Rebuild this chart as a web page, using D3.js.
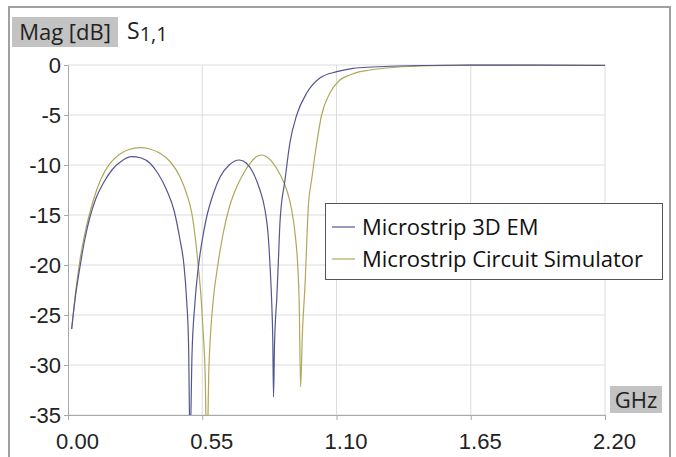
<!DOCTYPE html>
<html>
<head>
<meta charset="utf-8">
<script src="https://cdn.jsdelivr.net/npm/d3@7"></script>
<style>
  body { margin: 0; background: #fff; }
  svg { display: block; font-family: "Open Sans", sans-serif; }
</style>
</head>
<body>
<div id="chart"></div>
<script>
// S11 magnitude, two simulations (freq in GHz, value in dB)
var emFreq = [0.015, 0.030, 0.049, 0.070, 0.090, 0.115, 0.145, 0.180, 0.220, 0.261, 0.300, 0.336, 0.370, 0.404, 0.435, 0.459, 0.475, 0.486, 0.494, 0.500, 0.508, 0.520, 0.534, 0.550, 0.568, 0.595, 0.623, 0.660, 0.702, 0.730, 0.759, 0.785, 0.807, 0.820, 0.828, 0.835, 0.839, 0.842, 0.846, 0.851, 0.855, 0.862, 0.869, 0.889, 0.909, 0.937, 0.978, 1.032, 1.101, 1.168, 1.250, 1.350, 1.450, 1.650, 1.900, 2.200];
var emDb = [-26.4, -23.2, -20.2, -17.3, -15.2, -13.3, -11.8, -10.5, -9.6, -9.17, -9.3, -9.83, -10.9, -12.5, -14.6, -17.5, -20.0, -23.5, -28.0, -38.0, -29.0, -23.8, -20.2, -17.5, -15.2, -12.9, -11.2, -10.0, -9.5, -9.8, -10.8, -12.4, -14.5, -17.0, -20.2, -24.0, -27.5, -33.2, -28.0, -25.0, -23.5, -19.5, -15.5, -11.5, -7.8, -5.0, -2.8, -1.3, -0.67, -0.33, -0.2, -0.1, -0.05, -0.02, -0.02, -0.05];

var simFreq = [0.015, 0.030, 0.049, 0.075, 0.104, 0.135, 0.172, 0.210, 0.250, 0.295, 0.335, 0.377, 0.420, 0.459, 0.485, 0.507, 0.521, 0.534, 0.545, 0.554, 0.562, 0.569, 0.577, 0.585, 0.595, 0.615, 0.636, 0.660, 0.691, 0.720, 0.746, 0.770, 0.794, 0.815, 0.841, 0.870, 0.896, 0.915, 0.930, 0.941, 0.947, 0.953, 0.960, 0.971, 0.985, 0.998, 1.019, 1.039, 1.073, 1.114, 1.155, 1.196, 1.237, 1.306, 1.450, 1.650, 1.900, 2.200];
var simDb = [-26.4, -23.0, -19.5, -16.2, -13.5, -11.4, -9.83, -8.95, -8.45, -8.27, -8.4, -8.83, -9.7, -11.2, -12.8, -14.8, -17.2, -20.2, -23.2, -26.8, -31.0, -40.0, -30.5, -26.5, -23.5, -19.8, -16.8, -14.3, -12.2, -10.8, -9.83, -9.2, -9.0, -9.2, -9.83, -11.0, -12.5, -14.3, -16.8, -20.0, -23.5, -32.2, -27.0, -22.0, -14.0, -11.5, -7.8, -5.0, -2.8, -1.5, -1.0, -0.67, -0.5, -0.3, -0.1, -0.02, 0.0, 0.0];

var seriesNames = ["Microstrip 3D EM", "Microstrip Circuit Simulator"];
var seriesColors = ["#55558f", "#aea85a"];

var xTicks = [0, 0.55, 1.10, 1.65, 2.20];
var yTicks = [0, -5, -10, -15, -20, -25, -30, -35];

var svgWidth = 676;
var svgHeight = 457;

var margin = { top: 65, right: 71, bottom: 42, left: 68 };
var width = svgWidth - margin.left - margin.right;
var height = svgHeight - margin.top - margin.bottom;

var svg = d3.select("#chart")
  .append("svg")
  .attr("width", svgWidth)
  .attr("height", svgHeight);

// outer frame (open at the bottom, like the screenshot)
svg.append("path")
  .attr("d", "M9,460 V7 H670 V460")
  .attr("fill", "none")
  .attr("stroke", "#a0a0a0")
  .attr("stroke-width", 2);

var chartGroup = svg.append("g")
  .attr("transform", `translate(${margin.left}, ${margin.top})`);

var xScale = d3.scaleLinear().domain([0, 2.2]).range([0, width]);
var yScale = d3.scaleLinear().domain([-35, 0]).range([height, 0]);

// grid
chartGroup.append("g")
  .selectAll("line")
  .data(yTicks)
  .enter()
  .append("line")
  .attr("x1", 0)
  .attr("x2", width)
  .attr("y1", d => yScale(d))
  .attr("y2", d => yScale(d))
  .attr("stroke", "#dcdcdc");

chartGroup.append("g")
  .selectAll("line")
  .data(xTicks.slice(1))
  .enter()
  .append("line")
  .attr("x1", d => xScale(d))
  .attr("x2", d => xScale(d))
  .attr("y1", 0)
  .attr("y2", height)
  .attr("stroke", "#dcdcdc");

// axes
var bottomAxis = d3.axisBottom(xScale)
  .tickValues(xTicks)
  .tickFormat(d3.format(".2f"))
  .tickSize(5)
  .tickSizeOuter(0)
  .tickPadding(13);

var leftAxis = d3.axisLeft(yScale)
  .tickValues(yTicks)
  .tickFormat(d => String(d))
  .tickSize(4)
  .tickSizeOuter(0)
  .tickPadding(3);

var xAxis = chartGroup.append("g")
  .attr("transform", `translate(0, ${height})`)
  .call(bottomAxis);

xAxis.selectAll("text")
  .attr("dx", 9)
  .style("font-size", "22px")
  .style("fill", "#222");

var yAxis = chartGroup.append("g")
  .call(leftAxis);

yAxis.selectAll("text")
  .style("font-size", "22px")
  .style("fill", "#222");

chartGroup.selectAll(".domain, .tick line")
  .attr("stroke", "#a8a8a8");

// clip the traces at the plot area
chartGroup.append("clipPath")
  .attr("id", "plotclip")
  .append("rect")
  .attr("x", 0)
  .attr("y", -2)
  .attr("width", width)
  .attr("height", height + 2);

var line = d3.line()
  .x(d => xScale(d[0]))
  .y(d => yScale(d[1]))
  .curve(d3.curveMonotoneX);

var emData = emFreq.map((f, i) => [f, emDb[i]]);
var simData = simFreq.map((f, i) => [f, simDb[i]]);

var traces = chartGroup.append("g").attr("clip-path", "url(#plotclip)");

traces.append("path")
  .datum(simData)
  .attr("d", line)
  .attr("fill", "none")
  .attr("stroke", seriesColors[1])
  .attr("stroke-width", 1.2);

traces.append("path")
  .datum(emData)
  .attr("d", line)
  .attr("fill", "none")
  .attr("stroke", seriesColors[0])
  .attr("stroke-width", 1.2);

// "Mag [dB]" tag and S1,1 title
svg.append("rect")
  .attr("x", 12).attr("y", 17)
  .attr("width", 106).attr("height", 30)
  .attr("fill", "#c3c3c3");

svg.append("text")
  .attr("x", 65).attr("y", 40)
  .attr("text-anchor", "middle")
  .style("font-size", "22px")
  .style("fill", "#222")
  .text("Mag [dB]");

var title = svg.append("text")
  .attr("x", 127).attr("y", 39)
  .style("fill", "#222");
title.append("tspan").style("font-size", "23px").text("S");
title.append("tspan").attr("dy", 2).style("font-size", "20px").text("1,1");

// "GHz" tag
svg.append("rect")
  .attr("x", 610).attr("y", 386)
  .attr("width", 52).attr("height", 27)
  .attr("fill", "#c3c3c3");

svg.append("text")
  .attr("x", 636).attr("y", 408)
  .attr("text-anchor", "middle")
  .style("font-size", "22px")
  .style("fill", "#222")
  .text("GHz");

// legend
var legend = svg.append("g")
  .attr("transform", "translate(325, 203)");

legend.append("rect")
  .attr("x", 0.5).attr("y", 0.5)
  .attr("width", 337).attr("height", 76)
  .attr("fill", "#fff")
  .attr("stroke", "#555");

seriesNames.forEach(function(name, i) {
  var yy = 24 + i * 32;
  legend.append("line")
    .attr("x1", 7).attr("x2", 30)
    .attr("y1", yy).attr("y2", yy)
    .attr("stroke", seriesColors[i])
    .attr("stroke-width", 1.2);
  legend.append("text")
    .attr("x", 37).attr("y", yy + 8)
    .style("font-size", "22px")
    .style("fill", "#111")
    .text(name);
});
</script>
</body>
</html>
